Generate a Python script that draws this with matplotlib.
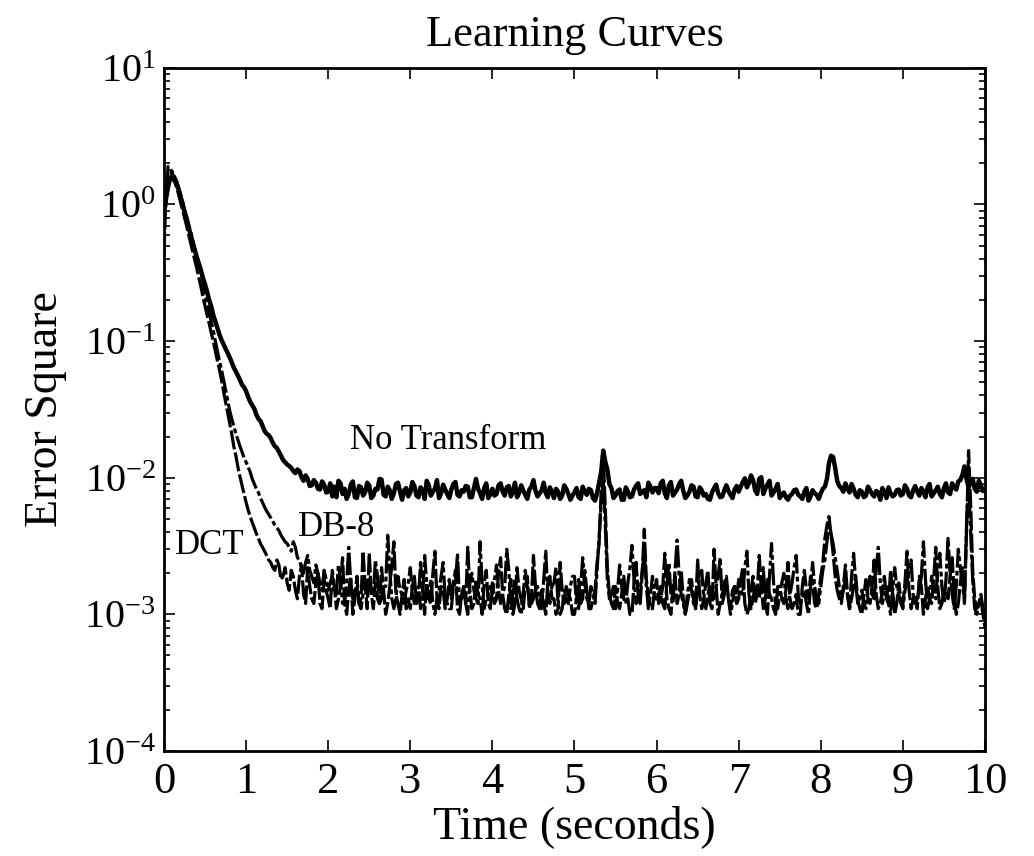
import numpy as np
import matplotlib
matplotlib.use("Agg")
import matplotlib.pyplot as plt
from matplotlib.ticker import LogLocator, FixedLocator

plt.rcParams['font.family'] = ['Liberation Serif', 'DejaVu Serif']
plt.rcParams['mathtext.fontset'] = 'custom'
plt.rcParams['mathtext.rm'] = 'Liberation Serif'
plt.rcParams['mathtext.it'] = 'Liberation Serif:italic'
plt.rcParams['mathtext.bf'] = 'Liberation Serif:bold'

# ---- data, one sample every 0.025 s ----
time_s = np.linspace(0, 10, 401)

no_transform = [
    0.85, 1.1, 1.35, 1.55, 1.65, 1.5, 1.45, 1.3, 1.15, 1.02, 0.88, 0.78, 0.68, 0.6, 0.52, 0.46, 0.41, 0.37, 0.33, 0.29,
    0.26, 0.23, 0.2, 0.18, 0.155, 0.14, 0.125, 0.112, 0.102, 0.095, 0.088, 0.082, 0.076, 0.07, 0.064, 0.06, 0.056, 0.052, 0.048, 0.046,
    0.043, 0.039, 0.036, 0.034, 0.032, 0.029, 0.027, 0.026, 0.024, 0.022, 0.021, 0.0205, 0.0195, 0.018, 0.017, 0.0165, 0.0155, 0.0145, 0.0135, 0.013,
    .0125, .0122, .0118, .0112, .0108, .0115, .0112, .0101, .0095, .0104, .0098, .0087, .0088, .0096, .0092, .0083, .0082, .0094, .0089, .0078,
    .0079, .0091, .0073, .0086, .0072, .0095, .0091, .0076, .0083, .0070, .0076, .0089, .0094, .0072, .0071, .0087, .0085, .0074, .0078, .0092,
    .0088, .0071, .0074, .0083, .0082, .0098, .0097, .0075, .0073, .0086, .0081, .0070, .0077, .0090, .0092, .0079, .0069, .0081, .0084, .0073,
    .0078, .0093, .0087, .0074, .0072, .0085, .0081, .0070, .0095, .0088, .0074, .0079, .0083, .0096, .0071, .0077, .0089, .0082, .0076, .0071,
    .0082, .0090, .0093, .0075, .0073, .0081, .0079, .0087, .0086, .0072, .0072, .0084, .0098, .0083, .0077, .0070, .0084, .0091, .0071, .0076,
    .0083, .0074, .0076, .0088, .0091, .0079, .0074, .0085, .0087, .0073, .0079, .0092, .0072, .0077, .0088, .0081, .0075, .0070, .0082, .0086,
    .0096, .0080, .0073, .0077, .0081, .0092, .0077, .0072, .0085, .0079, .0071, .0083, .0079, .0070, .0074, .0088, .0083, .0076, .0069, .0074,
    .0078, .0084, .0072, .0070, .0086, .0079, .0075, .0083, .0081, .0071, .0068, .0077, .0092, .0110, .0158, .0131, .0115, .0090, .0084, .0071,
    .0074, .0080, .0082, .0069, .0069, .0085, .0079, .0072, .0073, .0082, .0087, .0091, .0076, .0079, .0081, .0072, .0092, .0086, .0078, .0084,
    .0084, .0077, .0091, .0095, .0077, .0071, .0088, .0093, .0074, .0078, .0082, .0090, .0095, .0080, .0071, .0074, .0079, .0088, .0086, .0073,
    .0072, .0085, .0081, .0074, .0076, .0070, .0069, .0078, .0084, .0089, .0077, .0072, .0073, .0081, .0088, .0080, .0075, .0071, .0082, .0087,
    .0079, .0086, .0093, .0099, .0085, .0092, .0104, .0096, .0081, .0076, .0098, .0101, .0076, .0083, .0089, .0095, .0074, .0078, .0083, .0090,
    .0071, .0075, .0078, .0072, .0069, .0074, .0076, .0081, .0082, .0075, .0073, .0070, .0079, .0084, .0068, .0073, .0081, .0077, .0075, .0070,
    .0077, .0083, .0086, .0098, .0128, .0145, .0142, .0118, .0095, .0087, .0084, .0079, .0091, .0083, .0078, .0090, .0083, .0075, .0072, .0081,
    .0079, .0072, .0074, .0086, .0081, .0076, .0073, .0080, .0078, .0069, .0084, .0079, .0071, .0085, .0077, .0073, .0075, .0081, .0082, .0074,
    .0076, .0088, .0083, .0074, .0072, .0081, .0087, .0079, .0074, .0084, .0079, .0072, .0085, .0090, .0073, .0077, .0081, .0086, .0076, .0072,
    .0084, .0091, .0078, .0076, .0091, .0085, .0082, .0094, .0096, .0105, .0121, .0098, .0085, .0092, .0098, .0083, .0079, .0095, .0088, .0080,
    .0081,
]

dct = [
    0.45, 1.2, 1.9, 1.85, 1.7, 1.5, 1.35, 1.2, 1.05, 0.92, 0.8, 0.7, 0.6, 0.52, 0.45, 0.39, 0.34, 0.29, 0.25, 0.21,
    0.18, 0.155, 0.135, 0.115, 0.1, 0.085, 0.072, 0.062, 0.052, 0.043, 0.036, 0.03, 0.025, 0.021, 0.017, 0.0145, 0.012, 0.0102, 0.0088, 0.0076,
    0.0066, 0.0058, 0.0052, 0.0047, 0.0043, 0.0039, 0.0036, 0.0033, 0.0031, 0.0029, 0.0027, 0.0025, 0.0024, 0.0022, 0.0021, 0.0025, 0.0023, 0.0018, 0.0019, 0.0022,
    .0017, .0015, .0021, .0019, .0015, .0013, .0019, .0023, .0014, .0012, .0022, .0016, .0013, .0012, .0017, .0020, .0012, .0011, .0018, .0015,
    .0013, .0011, .0021, .0016, .0011, .0013, .0016, .0026, .0012, .0010, .0015, .0019, .0010, .0013, .0019, .0012, .0013, .0029, .0016, .0011,
    .0028, .0014, .0011, .0017, .0013, .0012, .0022, .0015, .0010, .0012, .0016, .0023, .0034, .0014, .0012, .0010, .0014, .0018, .0011, .0013,
    .0011, .0016, .0019, .0012, .0013, .0024, .0015, .0010, .0017, .0013, .0012, .0020, .0029, .0013, .0011, .0016, .0015, .0011, .0013, .0018,
    .0013, .0017, .0021, .0011, .0010, .0014, .0016, .0012, .0031, .0015, .0011, .0012, .0018, .0014, .0013, .0010, .0017, .0021, .0012, .0011,
    .0017, .0012, .0013, .0020, .0026, .0014, .0011, .0010, .0014, .0018, .0010, .0012, .0022, .0015, .0013, .0011, .0016, .0019, .0011, .0013,
    .0027, .0016, .0012, .0011, .0015, .0012, .0010, .0017, .0019, .0013, .0013, .0010, .0011, .0024, .0015, .0012, .0016, .0014, .0013, .0010,
    .0010, .0013, .0018, .0012, .0013, .0021, .0015, .0011, .0011, .0013, .0015, .0024, .0033, .0080, .0152, .0060, .0022, .0014, .0012, .0011,
    .0016, .0012, .0011, .0014, .0019, .0013, .0013, .0010, .0010, .0017, .0024, .0014, .0012, .0020, .0042, .0018, .0014, .0011, .0011, .0015,
    .0018, .0012, .0013, .0016, .0028, .0013, .0011, .0010, .0016, .0019, .0012, .0014, .0021, .0013, .0010, .0012, .0015, .0018, .0013, .0011,
    .0025, .0014, .0011, .0013, .0017, .0021, .0012, .0011, .0030, .0016, .0010, .0012, .0014, .0017, .0019, .0013, .0011, .0015, .0016, .0012,
    .0013, .0018, .0022, .0012, .0010, .0011, .0015, .0019, .0012, .0014, .0027, .0016, .0011, .0013, .0018, .0014, .0013, .0011, .0010, .0016,
    .0016, .0013, .0012, .0015, .0024, .0013, .0011, .0012, .0014, .0010, .0010, .0016, .0021, .0015, .0013, .0019, .0017, .0012, .0011, .0014,
    .0019, .0024, .0036, .0045, .0052, .0038, .0028, .0019, .0015, .0013, .0012, .0016, .0023, .0014, .0011, .0013, .0016, .0019, .0013, .0011,
    .0010, .0014, .0018, .0013, .0012, .0016, .0025, .0014, .0011, .0012, .0015, .0019, .0013, .0012, .0021, .0015, .0010, .0012, .0017, .0013,
    .0012, .0017, .0029, .0015, .0011, .0013, .0014, .0011, .0019, .0016, .0010, .0013, .0016, .0013, .0012, .0018, .0031, .0016, .0011, .0012,
    .0015, .0014, .0013, .0019, .0026, .0014, .0010, .0012, .0017, .0022, .0012, .0040, .0158, .0065, .0021, .0013, .0011, .0012, .0014, .0011,
    .0009,
]

db8 = [
    1.1, 1.3, 1.5, 1.65, 1.75, 1.62, 1.5, 1.35, 1.2, 1.05, 0.92, 0.82, 0.72, 0.63, 0.55, 0.48, 0.42, 0.37, 0.32, 0.27,
    0.22, 0.19, 0.165, 0.14, 0.12, 0.1, 0.085, 0.072, 0.062, 0.052, 0.044, 0.037, 0.031, 0.027, 0.024, 0.021, 0.019, 0.017, 0.0155, 0.014,
    0.013, 0.012, 0.011, 0.0098, 0.009, 0.0083, 0.0078, 0.0071, 0.0066, 0.0061, 0.0057, 0.0054, 0.0051, 0.0048, 0.0045, 0.0043, 0.0041, 0.0038, 0.0036, 0.0034,
    .0033, .0031, .0029, .0034, .0031, .0026, .0025, .0022, .0020, .0024, .0027, .0021, .0019, .0017, .0023, .0020, .0017, .0015, .0021, .0018,
    .0015, .0017, .0019, .0014, .0014, .0023, .0018, .0012, .0012, .0017, .0031, .0017, .0013, .0015, .0016, .0012, .0011, .0014, .0018, .0014,
    .0018, .0015, .0014, .0025, .0019, .0012, .0013, .0016, .0016, .0038, .0021, .0013, .0011, .0013, .0019, .0015, .0014, .0012, .0015, .0017,
    .0022, .0015, .0012, .0014, .0016, .0011, .0013, .0027, .0017, .0013, .0018, .0012, .0010, .0013, .0015, .0019, .0024, .0013, .0012, .0011,
    .0011, .0016, .0017, .0028, .0012, .0013, .0015, .0012, .0010, .0017, .0020, .0015, .0013, .0012, .0034, .0017, .0011, .0013, .0014, .0016,
    .0014, .0018, .0023, .0015, .0012, .0014, .0016, .0030, .0021, .0011, .0014, .0018, .0013, .0011, .0010, .0014, .0021, .0016, .0013, .0012,
    .0013, .0015, .0016, .0012, .0011, .0018, .0029, .0014, .0012, .0016, .0017, .0022, .0012, .0010, .0011, .0015, .0013, .0012, .0016, .0019,
    .0019, .0012, .0011, .0016, .0026, .0017, .0013, .0012, .0016, .0014, .0012, .0021, .0037, .0065, .0095, .0045, .0018, .0013, .0014, .0016,
    .0011, .0015, .0023, .0016, .0013, .0012, .0017, .0022, .0032, .0018, .0012, .0013, .0015, .0021, .0029, .0016, .0011, .0014, .0019, .0013,
    .0013, .0014, .0016, .0012, .0011, .0016, .0024, .0014, .0012, .0021, .0035, .0019, .0014, .0012, .0010, .0014, .0018, .0015, .0012, .0011,
    .0015, .0019, .0021, .0013, .0011, .0014, .0016, .0013, .0013, .0016, .0019, .0026, .0012, .0014, .0017, .0013, .0010, .0012, .0016, .0013,
    .0018, .0015, .0014, .0022, .0029, .0014, .0011, .0013, .0016, .0014, .0013, .0017, .0022, .0012, .0010, .0019, .0033, .0017, .0012, .0011,
    .0014, .0017, .0020, .0013, .0011, .0014, .0017, .0022, .0027, .0014, .0012, .0013, .0015, .0012, .0010, .0016, .0024, .0016, .0013, .0012,
    .0016, .0021, .0025, .0034, .0044, .0039, .0033, .0026, .0021, .0016, .0013, .0015, .0018, .0014, .0011, .0019, .0028, .0017, .0012, .0013,
    .0015, .0012, .0011, .0016, .0019, .0014, .0013, .0021, .0031, .0017, .0012, .0014, .0016, .0012, .0010, .0015, .0022, .0016, .0014, .0012,
    .0011, .0015, .0017, .0021, .0025, .0014, .0012, .0013, .0015, .0019, .0034, .0018, .0011, .0013, .0019, .0015, .0013, .0022, .0028, .0016,
    .0012, .0018, .0036, .0020, .0014, .0011, .0016, .0030, .0022, .0016, .0013, .0045, .0095, .0040, .0018, .0011, .0010, .0012, .0013, .0010,
    .0008,
]

x_ticks = [0, 1, 2, 3, 4, 5, 6, 7, 8, 9, 10]
y_ticks = [1e-4, 1e-3, 1e-2, 1e-1, 1e0, 1e1]
y_tick_labels = [r'$10^{-4}$', r'$10^{-3}$', r'$10^{-2}$', r'$10^{-1}$', r'$10^{0}$', r'$10^{1}$']

# ---- figure ----
fig = plt.figure(figsize=(10.34, 8.56), dpi=100)
ax = fig.add_axes([0.1586, 0.1227, 0.794, 0.798])

ax.plot(time_s, no_transform, color='black', lw=3.2, ls='-')
ax.plot(time_s, dct, color='black', lw=2.3, ls=(0, (6, 1.0)))
ax.plot(time_s, db8, color='black', lw=2.3, ls=(0, (7, 1.0, 1.5, 1.0)))

ax.set_yscale('log')
ax.set_xlim(0, 10)
ax.set_ylim(1e-4, 1e1)
ax.xaxis.set_major_locator(FixedLocator(x_ticks))
ax.set_xticklabels([str(v) for v in x_ticks])
ax.yaxis.set_major_locator(FixedLocator(y_ticks))
ax.set_yticklabels(y_tick_labels)
ax.yaxis.set_minor_locator(LogLocator(base=10, subs=np.arange(2, 10)))
ax.tick_params(which='both', direction='in', top=True, right=True, width=1.2)
ax.tick_params(axis='x', labelsize=32, pad=8)
ax.tick_params(axis='y', labelsize=29, pad=6)
ax.tick_params(which='major', length=8)
ax.tick_params(which='minor', length=4)
for sp in ax.spines.values():
    sp.set_linewidth(2)

ax.set_title('Learning Curves', fontsize=32, pad=16)
ax.set_xlabel('Time (seconds)', fontsize=33, labelpad=2)
ax.set_ylabel('Error Square', fontsize=33, labelpad=12)

ax.text(2.27, 10**-1.79, 'No Transform', fontsize=25, va='baseline', ha='left')
ax.text(0.13, 10**-2.56, 'DCT', fontsize=25, va='baseline', ha='left')
ax.text(1.63, 10**-2.43, 'DB-8', fontsize=25, va='baseline', ha='left')

fig.savefig('out.png', dpi=100, facecolor='white')
